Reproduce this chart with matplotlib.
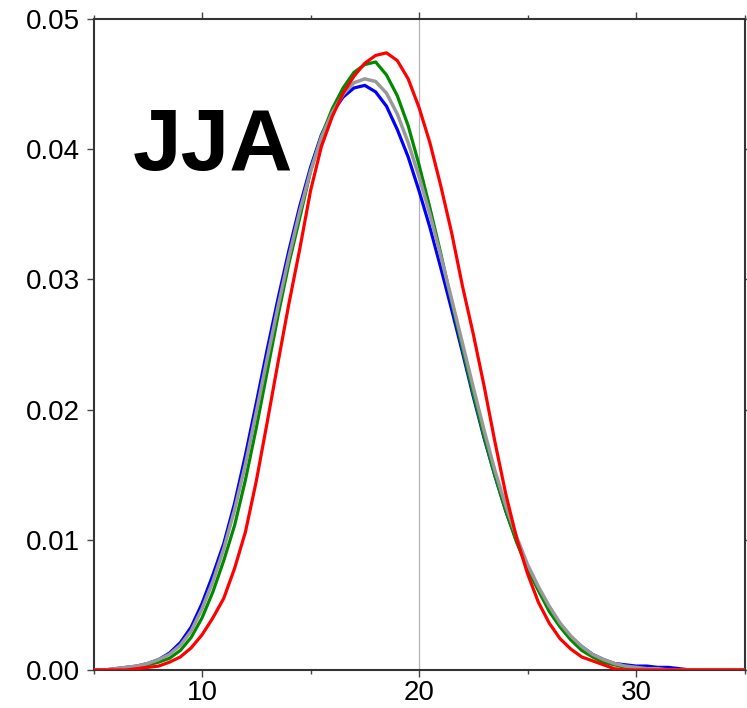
import matplotlib
matplotlib.use("Agg")
import matplotlib.pyplot as plt
from matplotlib.ticker import MultipleLocator

plt.rcParams['font.family'] = ['Liberation Sans', 'DejaVu Sans']

# temperature grid (0.5 steps)
x = [5 + 0.5 * i for i in range(61)]

blue = [0.0000, 0.0000, 0.0001, 0.0002, 0.0003, 0.0005, 0.0008, 0.0013, 0.0021, 0.0033,
        0.0051, 0.0073, 0.0097, 0.0128, 0.0165, 0.0205, 0.0246, 0.0285, 0.0322, 0.0356,
        0.0386, 0.0411, 0.0428, 0.0440, 0.0447, 0.0449, 0.0444, 0.0433, 0.0415, 0.0394,
        0.0368, 0.0340, 0.0309, 0.0277, 0.0244, 0.0210, 0.0178, 0.0149, 0.0122, 0.0099,
        0.0078, 0.0062, 0.0047, 0.0035, 0.0025, 0.0018, 0.0012, 0.0008, 0.0005, 0.0004,
        0.0003, 0.0003, 0.0002, 0.0002, 0.0001, 0.0000, 0.0000, 0.0000, 0.0000, 0.0000,
        0.0000]

gray = [0.0000, 0.0000, 0.0001, 0.0002, 0.0003, 0.0005, 0.0008, 0.0012, 0.0019, 0.0030,
        0.0047, 0.0068, 0.0093, 0.0123, 0.0158, 0.0198, 0.0239, 0.0279, 0.0317, 0.0352,
        0.0383, 0.0409, 0.0428, 0.0442, 0.0451, 0.0454, 0.0452, 0.0443, 0.0427, 0.0405,
        0.0379, 0.0350, 0.0318, 0.0285, 0.0251, 0.0217, 0.0184, 0.0153, 0.0126, 0.0102,
        0.0081, 0.0064, 0.0049, 0.0036, 0.0026, 0.0018, 0.0012, 0.0008, 0.0005, 0.0003,
        0.0002, 0.0001, 0.0001, 0.0000, 0.0000, 0.0000, 0.0000, 0.0000, 0.0000, 0.0000,
        0.0000]

green = [0.0000, 0.0000, 0.0000, 0.0001, 0.0002, 0.0004, 0.0006, 0.0009, 0.0015, 0.0025,
         0.0040, 0.0060, 0.0084, 0.0111, 0.0146, 0.0186, 0.0229, 0.0272, 0.0312, 0.0347,
         0.0383, 0.0410, 0.0431, 0.0447, 0.0459, 0.0465, 0.0467, 0.0457, 0.0441, 0.0418,
         0.0388, 0.0355, 0.0320, 0.0283, 0.0247, 0.0212, 0.0179, 0.0149, 0.0122, 0.0098,
         0.0078, 0.0061, 0.0045, 0.0033, 0.0023, 0.0015, 0.0010, 0.0006, 0.0004, 0.0002,
         0.0001, 0.0000, 0.0000, 0.0000, 0.0000, 0.0000, 0.0000, 0.0000, 0.0000, 0.0000,
         0.0000]

red = [0.0000, 0.0000, 0.0000, 0.0000, 0.0001, 0.0002, 0.0003, 0.0006, 0.0010, 0.0017,
       0.0027, 0.0040, 0.0055, 0.0078, 0.0106, 0.0145, 0.0190, 0.0236, 0.0281, 0.0323,
       0.0368, 0.0402, 0.0425, 0.0443, 0.0456, 0.0466, 0.0472, 0.0474, 0.0468, 0.0454,
       0.0432, 0.0405, 0.0372, 0.0336, 0.0295, 0.0258, 0.0218, 0.0175, 0.0135, 0.0101,
       0.0074, 0.0052, 0.0036, 0.0024, 0.0016, 0.0010, 0.0007, 0.0004, 0.0001, 0.0000,
       0.0000, 0.0000, 0.0000, 0.0000, 0.0000, 0.0000, 0.0000, 0.0000, 0.0000, 0.0000,
       0.0000]

fig = plt.figure(figsize=(7.47, 7.08), dpi=100)
ax = fig.add_axes([0.1252, 0.0537, 0.8715, 0.9195])

ax.axvline(20, color='#b4b4b4', lw=0.9, zorder=1)

ax.plot(x, blue, color='#0000ff', lw=2.3, zorder=3)
ax.plot(x, green, color='#008a00', lw=2.3, zorder=4)
ax.plot(x, gray, color='#999999', lw=2.5, zorder=5)
ax.plot(x, red, color='#ff0000', lw=2.3, zorder=6)

ax.set_xlim(5, 35)
ax.set_ylim(0, 0.05)
ax.xaxis.set_major_locator(MultipleLocator(10))
ax.xaxis.set_minor_locator(MultipleLocator(5))
ax.yaxis.set_major_locator(MultipleLocator(0.01))
ax.yaxis.set_major_formatter(matplotlib.ticker.FormatStrFormatter('%.2f'))

ax.tick_params(which='both', direction='out', top=True, right=True,
               labeltop=False, labelright=False, color='#444444', width=1)
ax.tick_params(which='major', length=5, labelsize=20, pad=5)
ax.tick_params(axis='x', which='major', pad=2)
ax.tick_params(which='minor', length=3)
for s in ax.spines.values():
    s.set_color('#333333')
    s.set_linewidth(1.5)

ax.text(0.06, 0.768, 'JJA', transform=ax.transAxes, fontsize=63,
        fontweight='bold', ha='left', va='baseline')

fig.savefig('out.png', dpi=100)
